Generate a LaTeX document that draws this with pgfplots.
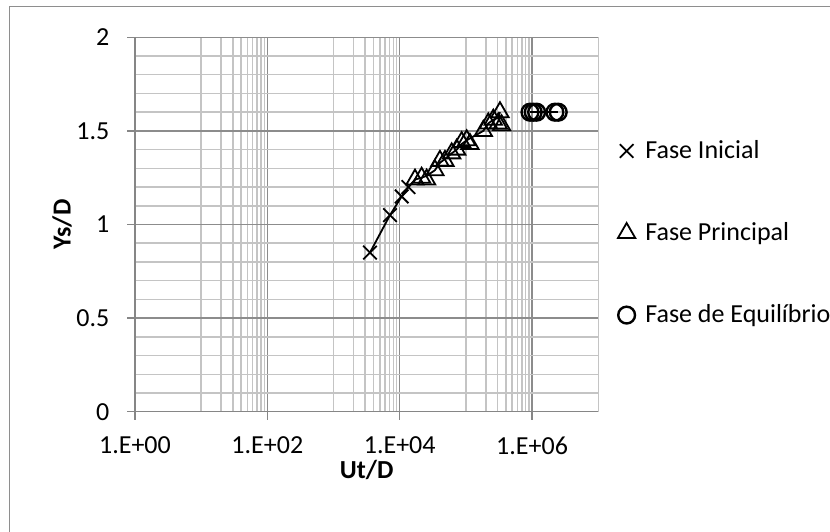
\documentclass[border=0pt]{standalone}
\usepackage{pgfplots}
\pgfplotsset{compat=1.18}
\usepackage{fontspec}
\setmainfont{Carlito}
\definecolor{axisgray}{HTML}{868686}
\definecolor{majgray}{HTML}{8C8C8C}
\definecolor{mingray}{HTML}{C4C4C4}
\definecolor{framegray}{HTML}{8E8E8E}
\begin{document}
\begin{tikzpicture}
% page size = 830x531 px at 0.5pt per px, plot area lower left at (0,0)
\useasboundingbox (-67.5pt,-59.65pt) rectangle (347.5pt,205.85pt);
\draw[framegray, line width=0.75pt] (-62.75pt,-70pt) -- (-62.75pt,202.5pt) -- (360pt,202.5pt);
\begin{axis}[
    scale only axis,
    width=231.65pt, height=187.2pt,
    xmode=log, xmin=1, xmax=1e7,
    ymin=0, ymax=2,
    font=\fontsize{13}{15}\selectfont,
    axis x line*=bottom, axis y line*=left,
    axis line style={draw=axisgray, line width=0.75pt, -},
    xtick={1,100,10000,1000000},
    xticklabels={1.E+00,1.E+02,1.E+04,1.E+06},
    minor xtick={10,20,30,40,50,60,70,80,90,
                 1000,2000,3000,4000,5000,6000,7000,8000,9000,
                 100000,200000,300000,400000,500000,600000,700000,800000,900000,
                 10000000},
    ytick={0,0.5,1,1.5,2},
    yticklabels={0,0.5,1,1.5,2},
    minor y tick num=4,
    tick align=outside,
    major tick length=4pt, minor tick length=0pt,
    tick style={draw=axisgray, line width=0.75pt},
    grid=both,
    major grid style={draw=majgray, line width=0.75pt},
    minor grid style={draw=mingray, line width=0.75pt},
    xticklabel style={yshift=-5pt},
    yticklabel style={xshift=-5.3pt},
    every axis x label/.style={at={(axis description cs:0.5,-0.1557)}, anchor=center},
    every axis y label/.style={at={(axis description cs:-0.1576,0.5)}, rotate=90, anchor=center},
    xlabel={\textbf{Ut/D}},
    ylabel={\textbf{Ys/D}},
    clip=false,
    legend style={at={(axis description cs:1.02,0.4773)}, xshift=5pt, anchor=west,
        draw=none, fill=none, row sep=26.5pt, column sep=3pt, inner sep=0pt,
        nodes={inner sep=2pt}},
    legend cell align=left,
    legend image code/.code={\draw[#1] plot coordinates {(4pt,0pt)};},
]
% connecting lines
\addplot[black, line width=0.9pt, forget plot] coordinates {
    (3550,0.85)(7120,1.05)(10700,1.15)(13500,1.2)
    (17000,1.24)(21400,1.25)(25500,1.26)(34000,1.29)(40500,1.33)(48200,1.35)
    (60900,1.38)(72500,1.4)(86200,1.43)(102600,1.45)(115000,1.46)(183000,1.5)
    (218000,1.54)(259000,1.56)(308000,1.57)(327000,1.6)
};
\addplot[black, line width=0.9pt, forget plot] coordinates {
    (929000,1.6)(1040000,1.6)(1170000,1.6)(2210000,1.6)(2480000,1.6)
};
% Fase Inicial
\addplot[only marks, mark=x, mark size=4.8pt, mark options={black, line width=0.9pt}] coordinates {
    (3550,0.85)(7120,1.05)(10700,1.15)(13500,1.2)
};
% Fase Principal
\addplot[only marks, mark=triangle, mark size=5pt, mark options={black, line width=0.9pt, fill=none}] coordinates {
    (17000,1.24)(21400,1.25)(25500,1.24)(34000,1.29)(40500,1.34)(48200,1.34)
    (60900,1.38)(72500,1.4)(86200,1.44)(102600,1.45)(115000,1.43)(183000,1.5)
    (218000,1.54)(259000,1.56)(308000,1.54)(327000,1.6)(346000,1.53)
};
% Fase de Equilibrio
\addplot[only marks, mark=o, mark size=4.2pt, mark options={black, line width=1.2pt}] coordinates {
    (929000,1.6)(1040000,1.6)(1170000,1.6)(2210000,1.6)(2480000,1.6)
};
\legend{Fase Inicial, Fase Principal, Fase de Equilíbrio}
\end{axis}
\end{tikzpicture}
\end{document}
